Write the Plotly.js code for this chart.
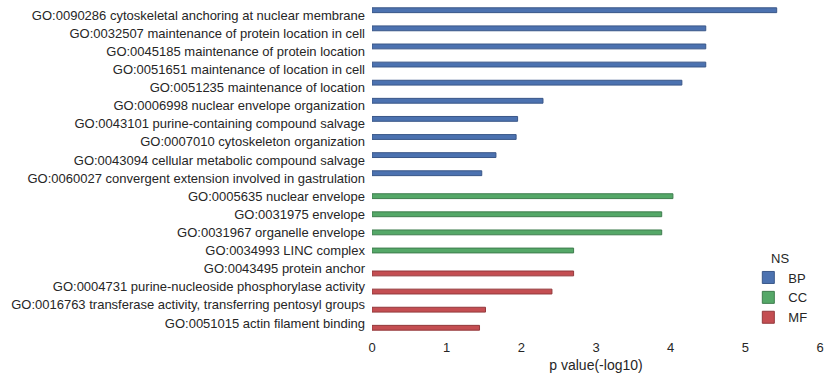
<!DOCTYPE html>
<html>
<head>
<meta charset="utf-8">
<script src="https://cdn.plot.ly/plotly-3.0.1.min.js"></script>
<style>html,body{margin:0;padding:0;background:#fff;}#chart{width:829px;height:379px;}</style>
</head>
<body>
<div id="chart"></div>
<script>
const bpTerms = [
  "GO:0090286 cytoskeletal anchoring at nuclear membrane",
  "GO:0032507 maintenance of protein location in cell",
  "GO:0045185 maintenance of protein location",
  "GO:0051651 maintenance of location in cell",
  "GO:0051235 maintenance of location",
  "GO:0006998 nuclear envelope organization",
  "GO:0043101 purine-containing compound salvage",
  "GO:0007010 cytoskeleton organization",
  "GO:0043094 cellular metabolic compound salvage",
  "GO:0060027 convergent extension involved in gastrulation"
];
const bpValues = [5.42, 4.47, 4.47, 4.47, 4.15, 2.29, 1.95, 1.93, 1.66, 1.47];

const ccTerms = [
  "GO:0005635 nuclear envelope",
  "GO:0031975 envelope",
  "GO:0031967 organelle envelope",
  "GO:0034993 LINC complex"
];
const ccValues = [4.03, 3.88, 3.88, 2.70];

const mfTerms = [
  "GO:0043495 protein anchor",
  "GO:0004731 purine-nucleoside phosphorylase activity",
  "GO:0016763 transferase activity, transferring pentosyl groups",
  "GO:0051015 actin filament binding"
];
const mfValues = [2.70, 2.41, 1.52, 1.44];

const groupNames = ["BP", "CC", "MF"];
const groupColors = ["#4C72B0", "#55A868", "#C44E52"];
const groupEdges = ["#3a5788", "#3f7d4e", "#93393c"];

const allTerms = bpTerms.concat(ccTerms, mfTerms);
const groups = [[bpTerms, bpValues], [ccTerms, ccValues], [mfTerms, mfValues]];

const traces = groups.map((g, i) => ({
  type: "bar",
  orientation: "h",
  name: groupNames[i],
  y: g[0],
  x: g[1],
  offsetgroup: groupNames[i],
  alignmentgroup: "all",
  marker: {color: groupColors[i], line: {color: groupEdges[i], width: 1}},
  hoverinfo: "x+y"
}));

const layout = {
  width: 829,
  height: 379,
  margin: {l: 372, r: 9, t: 6, b: 47},
  paper_bgcolor: "#fff",
  plot_bgcolor: "#fff",
  font: {family: "Liberation Sans, Arial, sans-serif", size: 13, color: "#262626"},
  barmode: "group",
  bargap: 0.2,
  bargroupgap: 0,
  xaxis: {
    range: [0, 6],
    dtick: 1,
    showgrid: false,
    zeroline: false,
    showline: false,
    ticks: "",
    ticklabelstandoff: 6,
    title: {text: "p value(-log10)", font: {size: 14}, standoff: 6}
  },
  yaxis: {
    type: "category",
    categoryorder: "array",
    categoryarray: allTerms,
    range: [allTerms.length - 0.5, -0.5],
    showgrid: false,
    zeroline: false,
    showline: false,
    ticks: "",
    ticklabelstandoff: 6
  },
  legend: {
    x: 0.84,
    xanchor: "left",
    y: 0.265,
    yanchor: "top",
    title: {text: "NS", side: "top center", font: {size: 13}},
    font: {size: 13},
    bgcolor: "rgba(0,0,0,0)",
    itemwidth: 30
  },
  showlegend: true
};

Plotly.newPlot("chart", traces, layout, {displayModeBar: false, staticPlot: true});
</script>
</body>
</html>
